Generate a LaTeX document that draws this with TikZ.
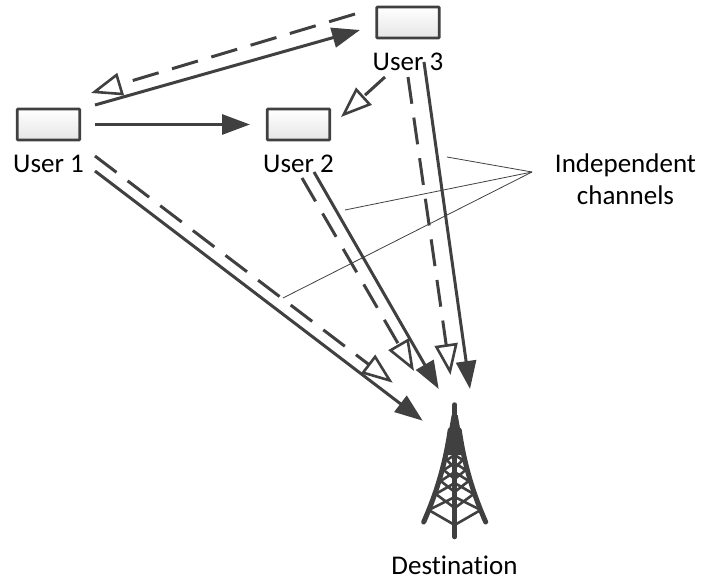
\documentclass[tikz,border=0pt]{standalone}
\usepackage{fontspec}
\setmainfont[Ligatures={NoCommon}]{Carlito}
\usetikzlibrary{arrows.meta,shadings}
\definecolor{ink}{HTML}{404040}
\tikzset{
  userbox/.style={draw=ink,line width=2.6pt,rounded corners=0.8pt,minimum width=62.5pt,minimum height=31pt,inner sep=0pt,top color=white,bottom color=black!10},
  lbl/.style={font=\fontsize{27}{32}\selectfont,text=black,inner sep=0pt,align=center},
  solidlink/.style={draw=ink,line width=3pt,-{Triangle[length=28pt,width=20pt,fill=ink]}},
  dashlink/.style={draw=ink,line width=3pt,dash pattern=on 27pt off 14pt,-{Triangle[open,length=31pt,width=23pt,fill=white,line width=2.6pt,sep=0pt]}},
  thinlink/.style={draw=ink,line width=0.8pt},
  towerline/.style={draw=ink,line cap=round}
}
\begin{document}
\begin{tikzpicture}[x=1pt,y=-1pt]
\useasboundingbox (0,0) rectangle (702,580);
\node[userbox] (u1) at (48.5,124.5) {};
\node[userbox] (u2) at (298.5,124.5) {};
\node[userbox] (u3) at (408,22.5) {};
\node[lbl] (l1) at (48.5,163.5) {User 1};
\node[lbl] (l2) at (298.5,163.5) {User 2};
\node[lbl] (l3) at (408,61.5) {User 3};
\node[lbl] (ic) at (625.5,179) {Independent\\channels};
\node[lbl] (dl) at (454.5,565) {Destination};
\coordinate (dest) at (454.7,470);
\coordinate (hub) at (532,172);
% connectors
\draw[solidlink] ([shift={(46.5,-19.5)}]u1.center) -- ([shift={(-48,7.5)}]u3.center);
\draw[dashlink] ([shift={(-53,-8.5)}]u3.center) -- ([shift={(42.5,-31.5)}]u1.center);
\draw[solidlink] ([shift={(46.5,0)}]u1.center) -- ([shift={(-48.5,0)}]u2.center);
\draw[dashlink] ([shift={(-23,54.5)}]u3.center) -- ([shift={(42.5,-7.5)}]u2.center);
\draw[dashlink] ([shift={(0,54.5)}]u3.center) -- ([shift={(-4.2,-95)}]dest);
\draw[solidlink] ([shift={(16,39.5)}]u3.center) -- ([shift={(15.3,-81)}]dest);
\draw[dashlink] ([shift={(3.5,53.5)}]u2.center) -- ([shift={(-40.7,-99)}]dest);
\draw[solidlink] ([shift={(15.5,47.5)}]u2.center) -- ([shift={(-16,-81)}]dest);
\draw[dashlink] ([shift={(46.5,31.5)}]u1.center) -- ([shift={(-62,-87.3)}]dest);
\draw[solidlink] ([shift={(46.5,46.5)}]u1.center) -- ([shift={(-32,-49.3)}]dest);
\draw[thinlink] (hub) -- (447,157);
\draw[thinlink] (hub) -- (345,210);
\draw[thinlink] (hub) -- (283,298);
% tower
\begin{scope}[shift={(dest)}]
  \draw[towerline,line width=5.5pt] (0,-65) -- (0,-30);
  \fill[ink] (-3,-55) -- (3,-55) -- (6,-38) -- (7,-15) -- (-7,-15) -- (-6,-38) -- cycle;
  \draw[towerline,line width=5pt] (-31,52) .. controls (-16,18) and (-9,-10) .. (-4.5,-40);
  \draw[towerline,line width=5pt] (31,52) .. controls (16,18) and (9,-10) .. (4.5,-40);
  \draw[towerline,line width=4.5pt] (0,-30) -- (0,67);
  \draw[towerline,line width=2.6pt]
    (-26,40) -- (0,55) -- (26,40)
    (-26,40) -- (0,27) -- (26,40)
    (-19,24) -- (0,38) -- (19,24)
    (-19,24) -- (0,13) -- (19,24)
    (-14,11) -- (0,22) -- (14,11)
    (-14,11) -- (0,2) -- (14,11)
    (-11,0) -- (0,9) -- (11,0)
    (-11,0) -- (0,-7) -- (11,0)
    (-8,-10) -- (0,-2) -- (8,-10)
    (-8,-10) -- (0,-15) -- (8,-10);
\end{scope}
\end{tikzpicture}
\end{document}
